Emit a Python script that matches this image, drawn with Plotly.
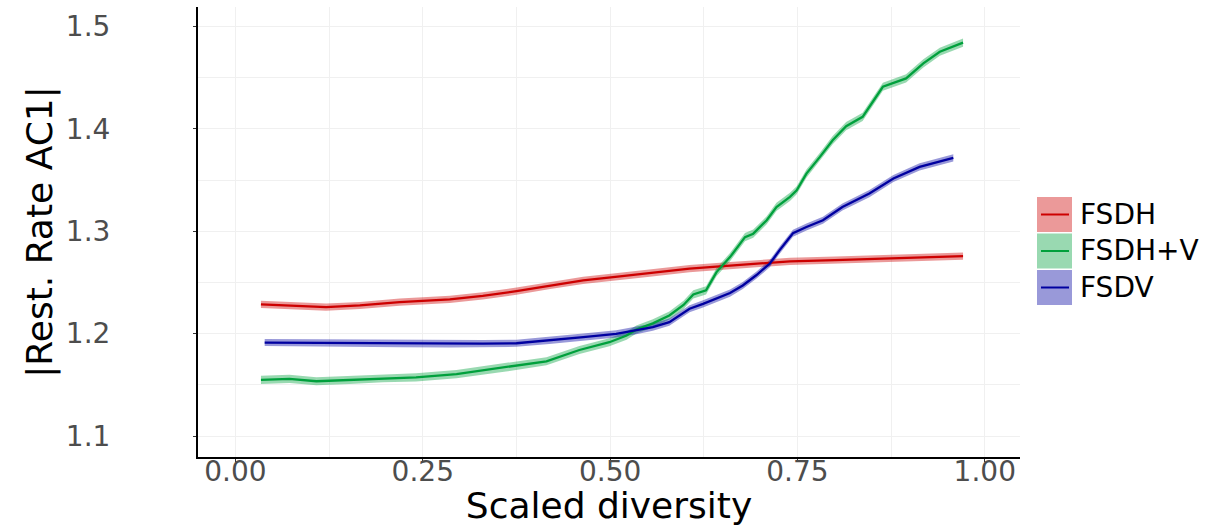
import plotly.graph_objects as go

# Smoothed |Rest. Rate AC1| against scaled diversity, one curve per scenario
fsdh_x = [0.034, 0.080, 0.121, 0.166, 0.219, 0.286, 0.330, 0.375, 0.420, 0.464,
          0.513, 0.553, 0.606, 0.660, 0.700, 0.740, 0.800, 0.870, 0.920, 0.971]
fsdh_y = [1.2285, 1.2272, 1.2258, 1.2275, 1.2307, 1.2334, 1.2368, 1.2415, 1.2470, 1.2520,
          1.2559, 1.2591, 1.2634, 1.2665, 1.2685, 1.2705, 1.2718, 1.2732, 1.2745, 1.2757]
fsdh_se = 0.0035

fsdhv_x = [0.034, 0.072, 0.108, 0.152, 0.197, 0.241, 0.295, 0.330, 0.361, 0.415,
           0.459, 0.499, 0.522, 0.535, 0.557, 0.579, 0.598, 0.611, 0.628, 0.642,
           0.660, 0.680, 0.691, 0.709, 0.722, 0.740, 0.749, 0.762, 0.780, 0.797,
           0.815, 0.837, 0.864, 0.895, 0.918, 0.940, 0.971]
fsdhv_y = [1.1548, 1.1558, 1.1535, 1.1548, 1.1565, 1.1573, 1.1605, 1.1640, 1.1670, 1.1730,
           1.1840, 1.1916, 1.1981, 1.2040, 1.2100, 1.2177, 1.2280, 1.2383, 1.2422, 1.2601,
           1.2747, 1.2943, 1.2976, 1.3107, 1.3237, 1.3335, 1.3400, 1.3563, 1.3726, 1.3889,
           1.4026, 1.4117, 1.4411, 1.4493, 1.4640, 1.4753, 1.4842]
fsdhv_se = 0.004

fsdv_x = [0.039, 0.100, 0.152, 0.220, 0.286, 0.330, 0.375, 0.419, 0.464, 0.508,
          0.535, 0.557, 0.579, 0.606, 0.624, 0.645, 0.660, 0.677, 0.695, 0.713,
          0.726, 0.744, 0.762, 0.784, 0.810, 0.846, 0.878, 0.913, 0.958]
fsdv_y = [1.1913, 1.1910, 1.1906, 1.1903, 1.1900, 1.1902, 1.1906, 1.1933, 1.1965, 1.1998,
          1.2030, 1.2063, 1.2112, 1.2243, 1.2291, 1.2350, 1.2396, 1.2470, 1.2570, 1.2683,
          1.2813, 1.2980, 1.3041, 1.3107, 1.3237, 1.3368, 1.3515, 1.3628, 1.3716]
fsdv_se = 0.0035

x_ticks = [0.0, 0.25, 0.5, 0.75, 1.0]
x_tick_labels = ["0.00", "0.25", "0.50", "0.75", "1.00"]
y_ticks = [1.1, 1.2, 1.3, 1.4, 1.5]
y_tick_labels = ["1.1", "1.2", "1.3", "1.4", "1.5"]

series = [
    ("FSDH", fsdh_x, fsdh_y, fsdh_se, "#CD0000", "rgba(205,0,0,0.4)"),
    ("FSDH+V", fsdhv_x, fsdhv_y, fsdhv_se, "#00A03C", "rgba(0,160,60,0.4)"),
    ("FSDV", fsdv_x, fsdv_y, fsdv_se, "#0000A0", "rgba(0,0,160,0.4)"),
]

FONT = "DejaVu Sans"
fig = go.Figure()

for name, xs, ys, se, line_col, fill_col in series:
    upper = [v + se for v in ys]
    lower = [v - se for v in ys]
    fig.add_trace(go.Scatter(
        x=xs + xs[::-1], y=upper + lower[::-1], fill="toself",
        fillcolor=fill_col, line=dict(width=0), mode="lines",
        hoverinfo="skip", showlegend=False))
for name, xs, ys, se, line_col, fill_col in series:
    fig.add_trace(go.Scatter(
        x=xs, y=ys, mode="lines", name=name,
        line=dict(color=line_col, width=2.3), showlegend=False))

# plot-area geometry in pixels
W, H = 1206, 526
L, R, T, B = 198, 1020, 7, 457


def px(xp):
    return (xp - L) / (R - L)


def py(yp):
    return (B - yp) / (B - T)


# legend: filled key squares with a line stroke and a label
key_rows = [(197, 232), (233.5, 268.5), (270, 305)]
for (name, xs, ys, se, line_col, fill_col), (y0, y1) in zip(series, key_rows):
    fig.add_shape(type="rect", xref="paper", yref="paper",
                  x0=px(1037), x1=px(1072), y0=py(y1), y1=py(y0),
                  fillcolor=fill_col, line=dict(width=0), layer="above")
    ym = (y0 + y1) / 2
    fig.add_shape(type="line", xref="paper", yref="paper",
                  x0=px(1041), x1=px(1069), y0=py(ym), y1=py(ym),
                  line=dict(color=line_col, width=2), layer="above")
    fig.add_annotation(x=px(1078), y=py(ym), xref="paper", yref="paper",
                       text=name, showarrow=False, xanchor="left", yanchor="middle",
                       font=dict(family=FONT, size=28, color="black"))

grid_col = "#f0f0f0"
fig.update_layout(
    width=W, height=H,
    margin=dict(l=L, r=W - R, t=T, b=H - B, pad=0),
    plot_bgcolor="white", paper_bgcolor="white",
    font=dict(family=FONT),
    showlegend=False,
    xaxis=dict(
        range=[-0.05, 1.047], tickvals=x_ticks, ticktext=x_tick_labels,
        automargin=False,
        showgrid=True, gridcolor=grid_col, gridwidth=1,
        minor=dict(showgrid=True, gridcolor=grid_col, gridwidth=1,
                   tick0=0.125, dtick=0.25),
        showline=True, linecolor="black", linewidth=2,
        ticks="outside", ticklen=3, tickcolor="#333333", tickwidth=1,
        ticklabelstandoff=-15,
        tickfont=dict(family=FONT, size=28, color="#4d4d4d"),
        title=dict(text="Scaled diversity", font=dict(family=FONT, size=36, color="black"),
                   standoff=0),
        zeroline=False,
    ),
    yaxis=dict(
        range=[1.0795, 1.519], tickvals=y_ticks, ticktext=y_tick_labels,
        automargin=False,
        showgrid=True, gridcolor=grid_col, gridwidth=1,
        minor=dict(showgrid=True, gridcolor=grid_col, gridwidth=1,
                   tick0=1.05, dtick=0.1),
        showline=True, linecolor="black", linewidth=2,
        ticks="outside", ticklen=3, tickcolor="#333333", tickwidth=1,
        ticklabelstandoff=77,
        tickfont=dict(family=FONT, size=28, color="#4d4d4d"),
        title=dict(text="|Rest. Rate AC1|", font=dict(family=FONT, size=36, color="black"),
                   standoff=2),
        zeroline=False,
    ),
)

fig.write_html("out.html")
